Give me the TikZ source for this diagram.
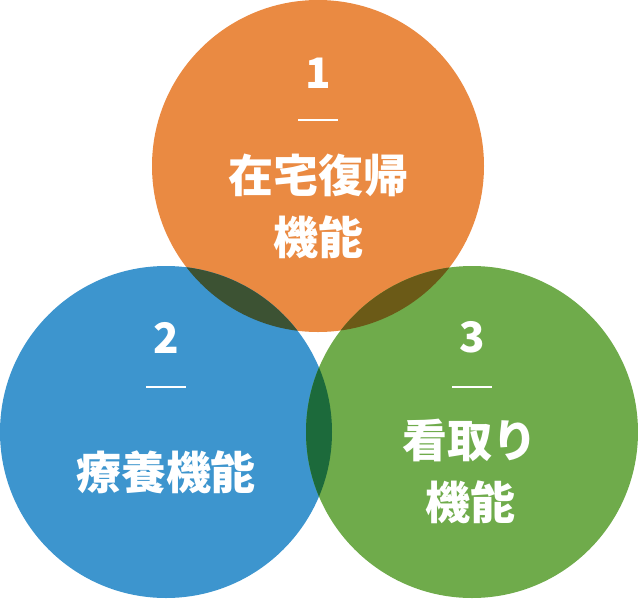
\documentclass[tikz,border=0pt]{standalone}
\usepackage{fontspec}
\newfontfamily\cjk{Noto Sans CJK JP}[BoldFont={Noto Sans CJK JP Black}]
\usetikzlibrary{calc}
\definecolor{orangeC}{HTML}{EA8A42}
\definecolor{blueC}{HTML}{3D95CE}
\definecolor{greenC}{HTML}{6FAB4B}
\definecolor{obC}{HTML}{3C5233}
\definecolor{ogC}{HTML}{6B5A17}
\definecolor{bgC}{HTML}{1C6A3B}
\tikzset{
  num/.style={text=white,font=\cjk\bfseries\fontsize{42}{42}\selectfont,inner sep=0pt},
  label/.style={text=white,font=\cjk\bfseries\fontsize{45}{62}\selectfont,align=center,inner sep=0pt},
  bar/.style={white,line width=2pt}
}
\begin{document}
\begin{tikzpicture}[x=1pt,y=-1pt]
\useasboundingbox (0,0) rectangle (638,598);
\coordinate (c1) at (318,166);
\coordinate (c2) at (166,432);
\coordinate (c3) at (472,432);
\def\r{166}
% circles
\fill[orangeC] (c1) circle (\r);
\fill[blueC] (c2) circle (\r);
\fill[greenC] (c3) circle (\r);
% overlaps
\begin{scope}
\clip (c1) circle (\r);
\fill[obC] (c2) circle (\r);
\fill[ogC] (c3) circle (\r);
\end{scope}
\begin{scope}
\clip (c2) circle (\r);
\fill[bgC] (c3) circle (\r);
\end{scope}
% 1
\node[num] (n1) at (318,73) {1};
\draw[bar] (298,120) -- (338,120);
\node[label] (t1) at (318,206) {在宅復帰\\機能};
% 2
\node[num] (n2) at (166,338) {2};
\draw[bar] (146,387) -- (186,387);
\node[label] (t2) at (166,472) {療養機能};
% 3
\node[num] (n3) at (472,337) {3};
\draw[bar] (452,387) -- (492,387);
\node[label] (t3) at (470,471) {看取り\\機能};
\end{tikzpicture}
\end{document}
